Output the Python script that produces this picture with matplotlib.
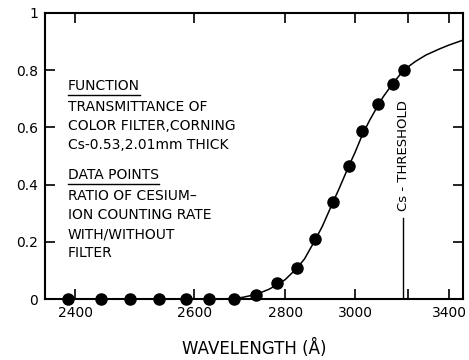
import numpy as np
from matplotlib import pyplot as plt

# pontos medidos (razao da taxa de contagem com / sem filtro)
comprimento_pontos = [2390, 2440, 2485, 2535, 2585, 2630, 2680, 2730, 2780,
                      2830, 2880, 2930, 2980, 3025, 3080, 3135, 3180]
razao_pontos = [0, 0, 0, 0, 0, 0, 0, 0.014, 0.055,
                0.107, 0.209, 0.338, 0.465, 0.588, 0.681, 0.751, 0.80]

# curva de transmitancia do filtro
comprimento_curva = [2357, 2650, 2680, 2700, 2730, 2760, 2780, 2800, 2830, 2850,
                     2880, 2900, 2930, 2950, 2980, 3000, 3025, 3050, 3080, 3100,
                     3135, 3180, 3230, 3280, 3350, 3400, 3482]
transmitancia_curva = [0, 0, 0.002, 0.006, 0.016, 0.034, 0.05, 0.068, 0.108, 0.14,
                       0.208, 0.255, 0.336, 0.387, 0.465, 0.512, 0.575, 0.625, 0.677, 0.708,
                       0.752, 0.80, 0.83, 0.853, 0.875, 0.888, 0.905]

x_ticks = [2400, 2600, 2800, 3000, 3200, 3400]
x_ticklabels = ['2400', '2600', '2800', '3000', '', '3400']
y_ticks = [0, 0.2, 0.4, 0.6, 0.8, 1]
y_ticklabels = ['0', '0.2', '0.4', '0.6', '0.8', '1']
threshold = 3178

# escala do eixo x (o desenho original nao e linear em comprimento de onda)
k = np.log(1 / 0.765) / 200


def forward(x):
    return -np.exp(-k * (np.asarray(x, dtype=float) - 2400))


def inverse(y):
    return 2400 - np.log(np.clip(-np.asarray(y, dtype=float), 1e-12, None)) / k


plt.rcParams['font.family'] = 'DejaVu Sans'
fig = plt.figure(figsize=(4.69, 3.6), dpi=100)
ax = fig.add_axes([0.0959, 0.1694, 0.8911, 0.7945])
ax.set_xscale('function', functions=(forward, inverse))

ax.plot(comprimento_curva, transmitancia_curva, '-k', lw=1.1, clip_on=False, zorder=2)
ax.plot(comprimento_pontos, razao_pontos, 'ok', ms=8, clip_on=False, zorder=3)

ax.set_xlim(2357, 3482)
ax.set_ylim(0, 1)
ax.set_xticks(x_ticks)
ax.set_xticklabels(x_ticklabels)
ax.set_yticks(y_ticks)
ax.set_yticklabels(y_ticklabels)
ax.tick_params(direction='in', length=7, width=1.2, top=True, right=True,
               labelsize=10, pad=5)
ax.xaxis.set_minor_locator(plt.NullLocator())
for s in ax.spines.values():
    s.set_linewidth(1.5)

ax.set_xlabel('WAVELENGTH (Å)', fontsize=12, labelpad=14)

# limiar do Cs
ax.plot([threshold, threshold], [0, 0.285], '-k', lw=1)
ax.text(threshold, 0.5, 'Cs - THRESHOLD', rotation=90, ha='center', va='center',
        fontsize=9.5)

# legenda escrita a mao
x0 = 0.055
linhas = [('FUNCTION', 0.745, True),
          ('TRANSMITTANCE OF', 0.672, False),
          ('COLOR FILTER,CORNING', 0.605, False),
          ('Cs-0.53,2.01mm THICK', 0.538, False),
          ('DATA POINTS', 0.434, True),
          ('RATIO OF CESIUM\u2013', 0.360, False),
          ('ION COUNTING RATE', 0.293, False),
          ('WITH/WITHOUT', 0.227, False),
          ('FILTER', 0.160, False)]
textos = []
for txt, yy, sub in linhas:
    t = ax.text(x0, yy, txt, transform=ax.transAxes, fontsize=10, va='center', ha='left')
    textos.append((t, sub))

fig.canvas.draw()
inv = ax.transAxes.inverted()
for t, sub in textos:
    if sub:
        bb = t.get_window_extent()
        (a, b), (c, d) = inv.transform([[bb.x0, bb.y0], [bb.x1, bb.y1]])
        ax.plot([a, c], [b - 0.008, b - 0.008], '-k', lw=1, transform=ax.transAxes)

fig.savefig('out.png', dpi=100)
